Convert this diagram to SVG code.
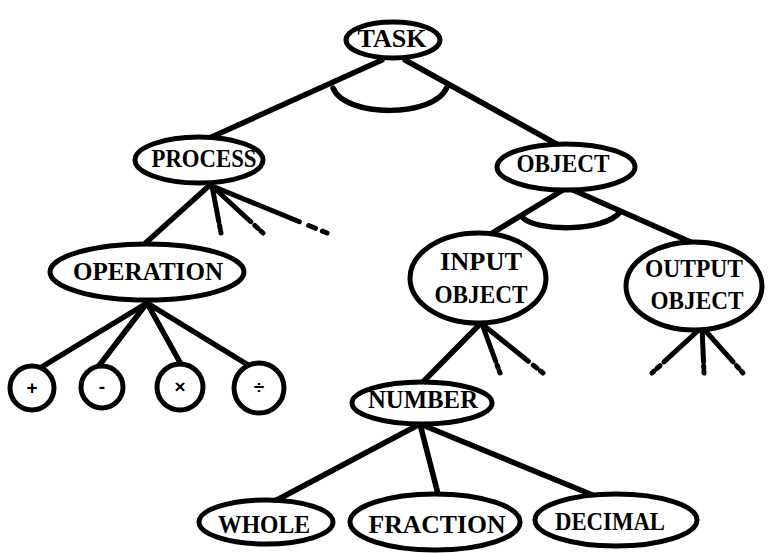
<svg xmlns="http://www.w3.org/2000/svg" width="768" height="553" viewBox="0 0 768 553">
<style>
.nd{fill:#fff;stroke:#000;stroke-width:5}
.ln{fill:none;stroke:#000;stroke-width:5.5;stroke-linecap:round}
.tr{fill:none;stroke:#000;stroke-width:5;stroke-linecap:round;stroke-dasharray:76 8 6 6 8 100}
.tx{font-family:"Liberation Serif","Times New Roman",serif;font-weight:bold;font-size:25px;text-anchor:middle;fill:#000}
.sy{font-family:"Liberation Sans",Arial,sans-serif;font-weight:bold;font-size:19px;text-anchor:middle;fill:#000}
</style>
<rect width="768" height="553" fill="#fff"/>
<g id="connectors">
<path class="ln" d="M382,60 L205,140"/>
<path class="ln" d="M405,60 L560,146"/>
<path class="ln" d="M333,88 C345,118 435,118 447,87"/>
<path class="ln" d="M563,190 L484,238"/>
<path class="ln" d="M573,190 L695,244"/>
<path class="ln" d="M522,217 C535,232 605,232 620,212"/>
<path class="ln" d="M211,184 L140,248"/>
<path class="tr" pathLength="100" d="M212,186 L221,233"/>
<path class="tr" pathLength="100" d="M212,186 L263,233"/>
<path class="tr" pathLength="100" d="M212,186 L327,233"/>
<path class="ln" d="M147,303 L40,368"/>
<path class="ln" d="M147,303 L98,367"/>
<path class="ln" d="M147,303 L182,366"/>
<path class="ln" d="M147,303 L253,368"/>
<path class="ln" d="M482,322 L421,384"/>
<path class="tr" pathLength="100" d="M482,324 L500,373"/>
<path class="tr" pathLength="100" d="M482,324 L543,373"/>
<path class="tr" pathLength="100" d="M702,327 L652,373"/>
<path class="tr" pathLength="100" d="M702,327 L704,373"/>
<path class="tr" pathLength="100" d="M702,327 L743,373"/>
<path class="ln" d="M420,424 L273,502"/>
<path class="ln" d="M420,424 L438,494"/>
<path class="ln" d="M420,424 L595,496"/>
</g>
<g id="task"><ellipse class="nd" cx="393" cy="40" rx="47" ry="18"/><text class="tx" x="392" y="47" textLength="69" lengthAdjust="spacingAndGlyphs">TASK</text></g>
<g id="process"><ellipse class="nd" cx="199" cy="160" rx="64" ry="23"/><text class="tx" x="204" y="167" textLength="105" lengthAdjust="spacingAndGlyphs">PROCESS</text></g>
<g id="object"><ellipse class="nd" cx="566" cy="167" rx="69" ry="23"/><text class="tx" x="563" y="172" textLength="93" lengthAdjust="spacingAndGlyphs">OBJECT</text></g>
<g id="operation"><ellipse class="nd" cx="147" cy="272" rx="97" ry="28"/><text class="tx" x="148" y="280" textLength="150" lengthAdjust="spacingAndGlyphs">OPERATION</text></g>
<g id="input-object"><ellipse class="nd" cx="478" cy="278" rx="68" ry="45"/><text class="tx" x="481" y="270" textLength="82" lengthAdjust="spacingAndGlyphs">INPUT</text><text class="tx" x="481" y="303" textLength="93" lengthAdjust="spacingAndGlyphs">OBJECT</text></g>
<g id="output-object"><ellipse class="nd" cx="694" cy="286" rx="68" ry="44"/><text class="tx" x="694" y="277" textLength="98" lengthAdjust="spacingAndGlyphs">OUTPUT</text><text class="tx" x="697" y="309" textLength="93" lengthAdjust="spacingAndGlyphs">OBJECT</text></g>
<g id="plus"><circle class="nd" cx="32" cy="388" r="22"/><text class="sy" x="32" y="394">+</text></g>
<g id="minus"><circle class="nd" cx="102" cy="387" r="21"/><text class="sy" x="102" y="393">-</text></g>
<g id="times"><circle class="nd" cx="180" cy="387" r="23"/><text class="sy" x="180" y="393">×</text></g>
<g id="divide"><circle class="nd" cx="259" cy="388" r="25"/><text class="sy" x="259" y="394">÷</text></g>
<g id="number"><ellipse class="nd" cx="422" cy="403" rx="70" ry="21"/><text class="tx" x="423" y="408" textLength="110" lengthAdjust="spacingAndGlyphs">NUMBER</text></g>
<g id="whole"><ellipse class="nd" cx="266" cy="522" rx="67" ry="22"/><text class="tx" x="264" y="533" textLength="92" lengthAdjust="spacingAndGlyphs">WHOLE</text></g>
<g id="fraction"><ellipse class="nd" cx="435" cy="522" rx="85" ry="28"/><text class="tx" x="437" y="533" textLength="137" lengthAdjust="spacingAndGlyphs">FRACTION</text></g>
<g id="decimal"><ellipse class="nd" cx="616" cy="520" rx="81" ry="26"/><text class="tx" x="610" y="530" textLength="110" lengthAdjust="spacingAndGlyphs">DECIMAL</text></g>
</svg>
